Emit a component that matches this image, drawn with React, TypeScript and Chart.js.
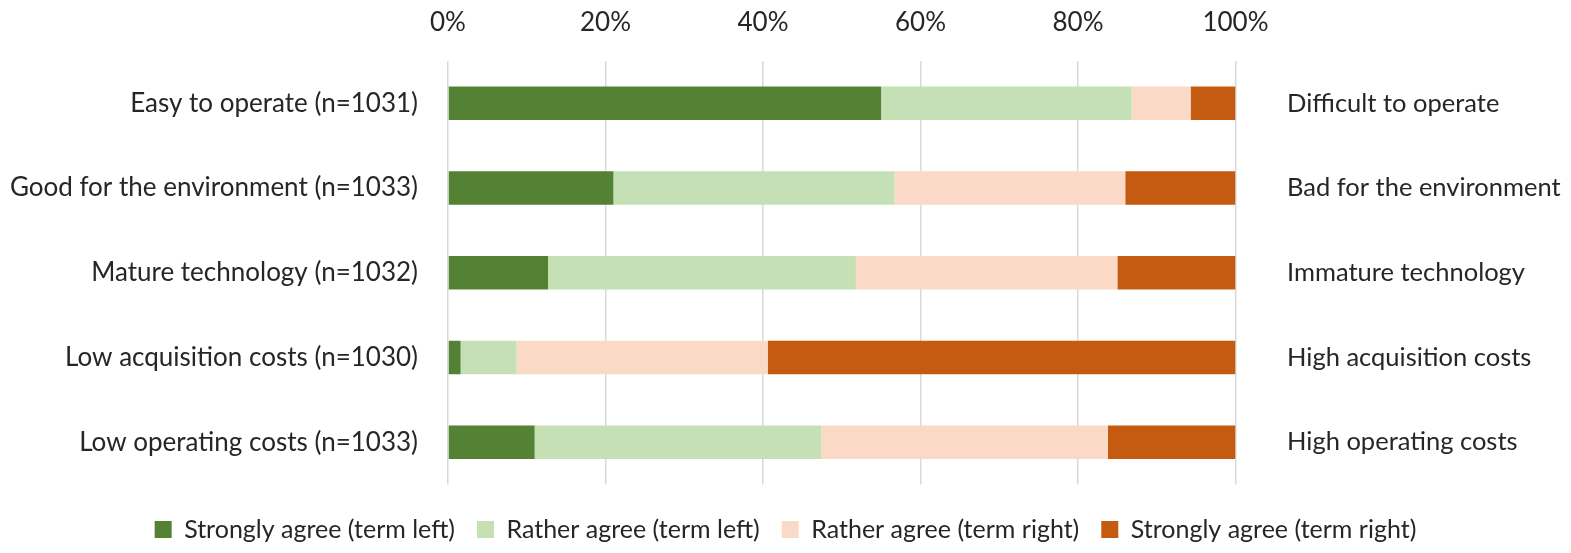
import React, { useEffect, useRef } from "react";
import { Chart, registerables } from "chart.js";

Chart.register(...registerables);

const categories = [
  "Easy to operate (n=1031)",
  "Good for the environment (n=1033)",
  "Mature technology (n=1032)",
  "Low acquisition costs (n=1030)",
  "Low operating costs (n=1033)",
];
const rightLabels = [
  "Difficult to operate",
  "Bad for the environment",
  "Immature technology",
  "High acquisition costs",
  "High operating costs",
];
const seriesNames = [
  "Strongly agree (term left)",
  "Rather agree (term left)",
  "Rather agree (term right)",
  "Strongly agree (term right)",
];
const strongLeft = [55.0, 21.0, 12.7, 1.6, 11.0];
const ratherLeft = [31.8, 35.7, 39.1, 7.1, 36.4];
const ratherRight = [7.5, 29.3, 33.2, 31.9, 36.4];
const strongRight = [5.7, 14.0, 15.0, 59.4, 16.2];
const seriesColors = ["#548235", "#C5E0B4", "#FAD9C7", "#C55A11"];

const FONT = "Lato, 'Open Sans', sans-serif";
const TEXT = "#262626";

export default function App() {
  const ref = useRef<HTMLCanvasElement | null>(null);
  useEffect(() => {
    if (!ref.current) return;
    const values = [strongLeft, ratherLeft, ratherRight, strongRight];
    const chart = new Chart(ref.current, {
      type: "bar",
      data: {
        labels: categories,
        datasets: values.map((d, i) => ({
          label: seriesNames[i],
          data: d,
          backgroundColor: seriesColors[i],
          borderWidth: 0,
          barPercentage: 1,
          categoryPercentage: 0.395,
        })),
      },
      options: {
        indexAxis: "y",
        responsive: true,
        maintainAspectRatio: false,
        animation: false,
        layout: { autoPadding: false, padding: { left: 0, right: 0, top: 0, bottom: 1 } },
        plugins: {
          tooltip: { enabled: false },
          legend: {
            position: "bottom",
            labels: {
              boxWidth: 17,
              boxHeight: 17,
              padding: 22,
              color: TEXT,
              font: { family: FONT, size: 25 },
            },
          },
        },
        scales: {
          x: {
            type: "linear",
            position: "top",
            stacked: true,
            min: 0,
            max: 100,
            ticks: {
              stepSize: 20,
              callback: (v: any) => v + "%",
              color: TEXT,
              font: { family: FONT, size: 26 },
              padding: 23,
            },
            grid: { color: "#D9D9D9", lineWidth: 1.5, drawTicks: false },
            border: { display: false },
            afterFit: (s: any) => {
              s.height = 61;
            },
          },
          xGap: {
            type: "linear",
            position: "bottom",
            display: true,
            grid: { display: false, drawTicks: false },
            border: { display: false },
            ticks: { display: false },
            afterFit: (s: any) => {
              s.height = 10.5;
            },
          },
          y: {
            type: "category",
            position: "left",
            stacked: true,
            grid: { display: false },
            border: { display: false },
            ticks: {
              color: TEXT,
              font: { family: FONT, size: 26 },
              padding: 22,
            },
            afterFit: (s: any) => {
              s.width = 448;
            },
          },
          y2: {
            type: "category",
            position: "right",
            labels: rightLabels,
            offset: true,
            grid: { display: false },
            border: { display: false },
            ticks: {
              color: TEXT,
              font: { family: FONT, size: 25.5 },
              padding: 43.5,
            },
            afterFit: (s: any) => {
              s.width = 335.5;
            },
          },
        },
      },
    } as any);
    return () => chart.destroy();
  }, []);
  return (
    <div style={{ position: "absolute", left: 0, top: 0, width: 1571, height: 553, background: "#fff" }}>
      <canvas ref={ref} />
    </div>
  );
}
